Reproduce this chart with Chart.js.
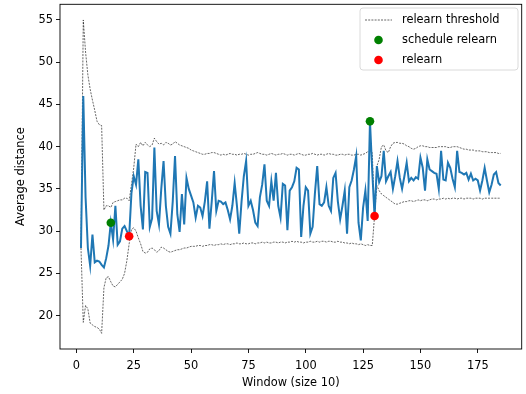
<!DOCTYPE html>
<html>
<head>
<meta charset="utf-8">
<script src="https://cdn.jsdelivr.net/npm/chart.js@4/dist/chart.umd.min.js"></script>
<style>
  html, body { margin: 0; padding: 0; background: #fff; }
  canvas { display: block; }
</style>
</head>
<body>
<canvas id="chart" width="526" height="394"></canvas>
<script>
// Window numbers start at 2 and run one per value
const firstWindow = 2;

// Average distance per window (windows 2..185)
const avgDistance = [
    28.0, 46.0, 34.0, 28.0, 25.9, 29.6, 26.3, 26.5, 26.4, 26.0,
    25.7, 26.8, 28.3, 31.0, 29.0, 33.0, 28.4, 28.8, 30.3, 30.6,
    30.0, 29.4, 34.5, 36.5, 35.5, 38.5, 33.0, 30.2, 37.0, 36.9,
    30.5, 31.5, 39.9, 32.4, 30.8, 35.0, 38.3, 33.0, 30.5, 29.7,
    33.5, 38.9, 32.0, 29.9, 34.4, 30.8, 36.3, 35.0, 34.2, 33.4,
    31.6, 33.0, 32.8, 31.8, 33.5, 35.9, 30.3, 33.5, 37.1, 32.4,
    33.6, 33.5, 33.2, 33.4, 32.5, 31.4, 33.0, 35.7, 33.0, 29.7,
    33.5, 36.5, 38.3, 33.0, 33.6, 32.5, 31.0, 30.6, 34.0, 35.5,
    37.9, 33.6, 33.0, 35.9, 33.6, 36.9, 33.0, 31.6, 35.6, 35.4,
    30.1, 34.8, 35.2, 35.9, 37.5, 37.3, 29.3, 33.0, 35.2, 34.8,
    29.7, 30.5, 34.5, 37.7, 33.2, 33.0, 33.4, 35.2, 33.0, 32.4,
    36.3, 36.9, 33.5, 31.4, 33.0, 34.8, 29.7, 35.2, 36.0, 37.3,
    38.9, 31.0, 28.9, 32.8, 34.8, 31.2, 43.0, 37.0, 31.8, 37.7,
    35.8, 36.5, 39.5, 35.9, 36.5, 37.0, 35.0, 36.5, 38.3, 36.3,
    35.0, 36.5, 38.1, 35.9, 36.3, 36.0, 36.4, 36.2, 38.7, 37.5,
    34.8, 38.5, 37.3, 37.1, 36.9, 36.8, 35.0, 39.5, 36.1, 36.0,
    38.1, 37.5, 36.2, 35.2, 39.5, 37.0, 36.9, 36.7, 36.9, 36.1,
    36.8, 36.0, 36.2, 36.0, 34.8, 36.0, 37.5, 36.0, 34.6, 35.5,
    36.7, 37.0, 35.7, 35.4
];

// Upper relearn threshold (windows 2..185)
const upperThreshold = [
    28.0, 55.0, 51.2, 48.5, 46.8, 45.5, 44.3, 43.0, 42.6, 42.5,
    32.5, 33.0, 33.0, 32.8, 33.4, 33.5, 33.6, 33.7, 33.7, 33.9,
    33.9, 33.6, 35.5, 37.5, 40.3, 40.0, 40.5, 40.1, 40.5, 40.2,
    40.0, 40.2, 41.0, 40.6, 40.3, 40.4, 40.2, 40.5, 40.4, 40.2,
    40.3, 40.6, 40.4, 40.2, 40.1, 40.0, 39.9, 39.8, 39.6, 39.5,
    39.4, 39.3, 39.2, 39.1, 39.1, 39.2, 39.2, 39.3, 39.3, 39.2,
    39.1, 39.0, 39.1, 39.0, 39.1, 39.2, 39.1, 39.1, 39.0, 39.1,
    39.1, 39.2, 39.1, 39.0, 39.1, 39.1, 39.2, 39.3, 39.2, 39.1,
    39.1, 39.0, 39.1, 39.2, 39.1, 39.0, 39.1, 39.1, 39.2, 39.1,
    39.0, 39.1, 39.1, 39.0, 39.1, 39.2, 39.1, 39.0, 39.0, 39.1,
    39.1, 39.2, 39.1, 39.0, 39.1, 39.1, 39.0, 39.1, 39.2, 39.1,
    39.1, 39.0, 39.0, 39.1, 39.1, 39.0, 39.1, 39.1, 39.0, 39.0,
    39.1, 39.1, 39.0, 39.1, 39.2, 39.4, 39.5, 39.3, 31.8, 37.7,
    38.5, 40.0, 40.2, 39.5, 39.3, 40.0, 40.4, 40.5, 40.5, 40.4,
    40.4, 40.3, 40.1, 40.0, 39.8, 39.7, 39.8, 40.0, 40.1, 40.1,
    40.0, 40.0, 39.9, 39.9, 39.9, 39.9, 40.0, 40.0, 40.0, 40.0,
    39.9, 39.9, 40.0, 40.0, 40.0, 39.9, 39.8, 39.7, 39.7, 39.6,
    39.6, 39.6, 39.5, 39.5, 39.5, 39.4, 39.4, 39.4, 39.3, 39.3,
    39.3, 39.3, 39.2, 39.2
];

// Lower relearn threshold (windows 2..185)
const lowerThreshold = [
    28.0, 19.2, 21.2, 20.8, 19.1, 18.9, 18.7, 18.6, 18.4, 17.9,
    23.3, 24.5, 24.6, 24.0, 23.5, 23.4, 23.7, 24.0, 24.3, 25.0,
    26.5, 28.5, 30.2, 30.4, 30.0, 29.2, 28.5, 27.6, 27.4, 27.5,
    27.9, 28.0, 27.8, 27.5, 27.7, 28.1, 28.0, 27.8, 27.6, 27.5,
    27.6, 27.7, 27.8, 27.8, 27.9, 28.0, 28.0, 28.1, 28.2, 28.2,
    28.2, 28.3, 28.3, 28.2, 28.3, 28.3, 28.4, 28.4, 28.3, 28.4,
    28.4, 28.5, 28.4, 28.5, 28.5, 28.4, 28.5, 28.5, 28.6, 28.5,
    28.5, 28.6, 28.5, 28.5, 28.6, 28.6, 28.5, 28.6, 28.6, 28.7,
    28.6, 28.7, 28.6, 28.6, 28.7, 28.7, 28.6, 28.7, 28.7, 28.6,
    28.7, 28.7, 28.8, 28.7, 28.8, 28.7, 28.7, 28.6, 28.7, 28.7,
    28.8, 28.7, 28.7, 28.8, 28.7, 28.8, 28.8, 28.7, 28.8, 28.8,
    28.7, 28.7, 28.8, 28.7, 28.7, 28.6, 28.6, 28.5, 28.6, 28.5,
    28.5, 28.4, 28.5, 28.4, 28.3, 28.4, 28.3, 28.3, 31.8, 35.4,
    34.8, 34.4, 34.2, 34.0, 33.8, 33.6, 33.4, 33.2, 33.2, 33.3,
    33.4, 33.5, 33.5, 33.6, 33.6, 33.5, 33.6, 33.7, 33.6, 33.7,
    33.7, 33.6, 33.7, 33.8, 33.8, 33.7, 33.8, 33.8, 33.9, 33.8,
    33.9, 33.8, 33.9, 33.9, 33.8, 33.9, 33.9, 33.8, 33.9, 33.9,
    33.9, 33.8, 33.9, 33.9, 33.9, 33.8, 33.9, 33.9, 33.9, 33.9,
    33.9, 33.9, 33.9, 33.9
];

// Marked windows
const scheduleWindows = [15, 128];
const scheduleValues = [31.0, 43.0];
const relearnWindows = [23, 130];
const relearnValues = [29.4, 31.8];

// Tick labels
const xTicks = [0, 25, 50, 75, 100, 125, 150, 175];
const yTicks = [20, 25, 30, 35, 40, 45, 50, 55];


// Helpers
function toPoints(values) {
    return values.map((v, i) => ({ x: firstWindow + i, y: v }));
}
function pairPoints(xs, ys) {
    return xs.map((x, i) => ({ x: x, y: ys[i] }));
}

// Matplotlib style auto limits, 5% margin
const lastWindow = firstWindow + avgDistance.length - 1;
const xPad = (lastWindow - firstWindow) * 0.05;
const allY = avgDistance.concat(upperThreshold, lowerThreshold);
const yMinData = Math.min(...allY), yMaxData = Math.max(...allY);
const yPad = (yMaxData - yMinData) * 0.05;

const FONT = { family: 'DejaVu Sans', size: 11.4 };
const BLUE = '#1f77b4';


// Frame and legend drawn like matplotlib
const mplPlugin = {
    id: 'mplPlugin',
    afterDraw(chart) {
        const ctx = chart.ctx;
        const a = chart.chartArea;

        // 1. Axes frame
        ctx.save();
        ctx.strokeStyle = '#000';
        ctx.lineWidth = 0.9;
        ctx.strokeRect(a.left, a.top, a.right - a.left, a.bottom - a.top);

        // 2. Legend box
        const bx = 360, by = 8, bw = 158, bh = 62, r = 3;
        ctx.beginPath();
        ctx.moveTo(bx + r, by);
        ctx.arcTo(bx + bw, by, bx + bw, by + bh, r);
        ctx.arcTo(bx + bw, by + bh, bx, by + bh, r);
        ctx.arcTo(bx, by + bh, bx, by, r);
        ctx.arcTo(bx, by, bx + bw, by, r);
        ctx.closePath();
        ctx.fillStyle = 'rgba(255,255,255,0.8)';
        ctx.fill();
        ctx.strokeStyle = '#d0d0d0';
        ctx.lineWidth = 0.8;
        ctx.stroke();

        // 3. Legend entries
        const entries = [
            { label: 'relearn threshold', kind: 'line' },
            { label: 'schedule relearn', kind: 'dot', color: 'green' },
            { label: 'relearn', kind: 'dot', color: 'red' }
        ];
        ctx.font = FONT.size + 'px ' + FONT.family;
        ctx.textBaseline = 'middle';
        ctx.textAlign = 'left';
        entries.forEach((e, i) => {
            const y = by + 12 + i * 20;
            if (e.kind === 'line') {
                ctx.beginPath();
                ctx.setLineDash([2, 1.2]);
                ctx.strokeStyle = '#000';
                ctx.lineWidth = 0.6;
                ctx.moveTo(365, y);
                ctx.lineTo(392, y);
                ctx.stroke();
                ctx.setLineDash([]);
            } else {
                ctx.beginPath();
                ctx.fillStyle = e.color;
                ctx.arc(378.5, y, 4.3, 0, Math.PI * 2);
                ctx.fill();
            }
            ctx.fillStyle = '#000';
            ctx.fillText(e.label, 402, y + 0.5);
        });
        ctx.restore();
    }
};


const thresholdStyle = {
    borderColor: '#000',
    borderWidth: 0.6,
    borderDash: [2, 1.2],
    pointRadius: 0,
    fill: false,
    tension: 0,
    order: 3
};

new Chart(document.getElementById('chart').getContext('2d'), {
    type: 'line',
    data: {
        datasets: [
            Object.assign({ label: 'relearn threshold', data: toPoints(upperThreshold) }, thresholdStyle),
            Object.assign({ label: 'relearn threshold (lower)', data: toPoints(lowerThreshold) }, thresholdStyle),
            {
                label: 'average distance',
                data: toPoints(avgDistance),
                borderColor: BLUE,
                borderWidth: 2,
                pointRadius: 0,
                tension: 0,
                order: 2
            },
            {
                label: 'schedule relearn',
                type: 'scatter',
                data: pairPoints(scheduleWindows, scheduleValues),
                backgroundColor: 'green',
                borderWidth: 0,
                pointRadius: 4.3,
                showLine: false,
                order: 1
            },
            {
                label: 'relearn',
                type: 'scatter',
                data: pairPoints(relearnWindows, relearnValues),
                backgroundColor: 'red',
                borderWidth: 0,
                pointRadius: 4.3,
                showLine: false,
                order: 0
            }
        ]
    },
    options: {
        responsive: false,
        animation: false,
        devicePixelRatio: 1,
        layout: { padding: { top: 3, right: 4, left: 0, bottom: 0 } },
        plugins: {
            legend: { display: false },
            tooltip: { enabled: false }
        },
        scales: {
            x: {
                type: 'linear',
                min: firstWindow - xPad,
                max: lastWindow + xPad,
                afterFit: (scale) => { scale.height = 45; scale.paddingLeft = 0; scale.paddingRight = 0; },
                afterBuildTicks: (scale) => { scale.ticks = xTicks.map(v => ({ value: v })); },
                grid: { drawOnChartArea: false, drawTicks: true, tickLength: 4, color: '#000', tickWidth: 0.9 },
                border: { display: false },
                ticks: { color: '#000', font: FONT, padding: 6, maxRotation: 0, autoSkip: false },
                title: { display: true, text: 'Window (size 10)', color: '#000', font: FONT, padding: { top: 0, bottom: 4 } }
            },
            y: {
                type: 'linear',
                min: yMinData - yPad,
                max: yMaxData + yPad,
                afterFit: (scale) => { scale.width = 60; scale.paddingTop = 0; scale.paddingBottom = 0; },
                afterBuildTicks: (scale) => { scale.ticks = yTicks.map(v => ({ value: v })); },
                grid: { drawOnChartArea: false, drawTicks: true, tickLength: 4, color: '#000', tickWidth: 0.9 },
                border: { display: false },
                ticks: { color: '#000', font: FONT, padding: 3, autoSkip: false },
                title: { display: true, text: 'Average distance', color: '#000', font: FONT, padding: { top: 14, bottom: 0 } }
            }
        }
    },
    plugins: [mplPlugin]
});
</script>
</body>
</html>
